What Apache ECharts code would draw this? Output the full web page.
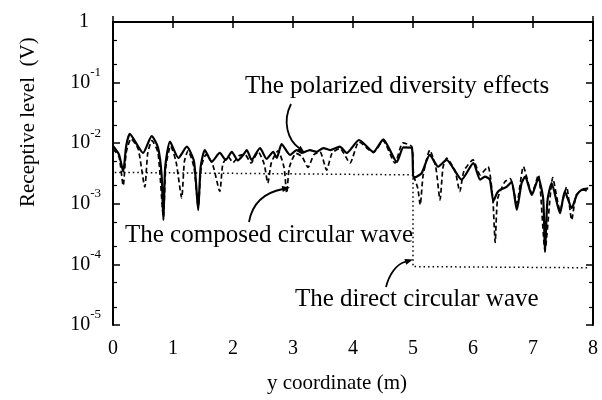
<!DOCTYPE html>
<html>
<head>
<meta charset="utf-8">
<script src="https://cdn.jsdelivr.net/npm/echarts@6/dist/echarts.min.js"></script>
<style>
  html, body { margin: 0; padding: 0; background: #fff; }
  #chart { width: 602px; height: 400px; }
</style>
</head>
<body>
<div id="chart"></div>
<script>
// values (x in m, level in V)
const polarX = [0, 0.1, 0.17, 0.22, 0.28, 0.4, 0.5, 0.645, 0.75, 0.81, 0.84, 0.87, 0.95, 1.09, 1.23, 1.35, 1.42, 1.46, 1.53, 1.645,
  1.78, 1.88, 1.98, 2.08, 2.17, 2.23, 2.31, 2.45, 2.56, 2.67, 2.73, 2.81, 2.95, 3.06, 3.145, 3.28, 3.395, 3.505, 3.62, 3.78,
  3.895, 4.1, 4.34, 4.505, 4.73, 4.84, 4.98, 5.005, 5.06, 5.145, 5.28, 5.42, 5.56, 5.81, 6.005, 6.12, 6.2, 6.28, 6.34, 6.4,
  6.45, 6.56, 6.645, 6.73, 6.81, 6.87, 6.98, 7.09, 7.17, 7.2, 7.24, 7.31, 7.45, 7.53, 7.645, 7.73, 7.81, 7.92]
const polarY = [0.009, 0.0065, 0.0034, 0.009, 0.0142, 0.0095, 0.0069, 0.0131, 0.0085, 0.003, 0.00054, 0.004, 0.0106, 0.0057, 0.00875, 0.005, 0.00079, 0.004, 0.0077, 0.00495,
  0.0069, 0.0053, 0.0072, 0.0052, 0.0064, 0.0077, 0.0053, 0.0083, 0.0055, 0.0072, 0.0057, 0.0097, 0.0064, 0.0077, 0.0069, 0.0077, 0.0072, 0.0083, 0.0077, 0.00875,
  0.0069, 0.0113, 0.0072, 0.0116, 0.0049, 0.00855, 0.0083, 0.0027, 0.0028, 0.0032, 0.0064, 0.0041, 0.0053, 0.0025, 0.0047, 0.0025, 0.0028, 0.0025, 0.0011, 0.0015,
  0.0017, 0.0019, 0.0023, 0.00079, 0.0022, 0.0028, 0.0014, 0.00265, 0.0012, 0.00016, 0.0011, 0.0022, 0.0007, 0.0016, 0.00085, 0.0014, 0.0017, 0.0018]

const composedX = [0, 0.1, 0.17, 0.22, 0.3, 0.42, 0.53, 0.58, 0.65, 0.75, 0.84, 0.88, 0.96, 1.05, 1.145, 1.19, 1.25, 1.35, 1.42, 1.47,
  1.55, 1.66, 1.78, 1.83, 1.92, 2.0, 2.1, 2.2, 2.3, 2.42, 2.52, 2.58, 2.64, 2.75, 2.85, 2.895, 2.94, 3.05, 3.15, 3.25,
  3.35, 3.45, 3.56, 3.65, 3.78, 3.95, 4.1, 4.34, 4.5, 4.7, 4.83, 4.98, 5.01, 5.08, 5.12, 5.17, 5.28, 5.38, 5.45, 5.5,
  5.56, 5.7, 5.78, 5.85, 6.0, 6.12, 6.25, 6.33, 6.37, 6.41, 6.53, 6.62, 6.73, 6.84, 6.98, 7.09, 7.2, 7.33, 7.45, 7.56,
  7.645, 7.72, 7.84, 7.92]
const composedY = [0.008, 0.006, 0.002, 0.007, 0.0118, 0.008, 0.0019, 0.007, 0.011, 0.007, 0.0006, 0.004, 0.009, 0.005, 0.00125, 0.005, 0.0075, 0.004, 0.0009, 0.004,
  0.0065, 0.0045, 0.0016, 0.0045, 0.006, 0.0048, 0.0062, 0.0065, 0.0047, 0.0072, 0.0045, 0.0022, 0.0048, 0.0075, 0.004, 0.0015, 0.004, 0.0068, 0.006, 0.004,
  0.0065, 0.0072, 0.0036, 0.0068, 0.0082, 0.0047, 0.0105, 0.007, 0.011, 0.0047, 0.0101, 0.0088, 0.003, 0.0018, 0.00096, 0.003, 0.0077, 0.004, 0.00116, 0.004,
  0.0057, 0.0035, 0.0016, 0.0035, 0.0053, 0.003, 0.0041, 0.0012, 0.00023, 0.0012, 0.0023, 0.0026, 0.00102, 0.0041, 0.0015, 0.003, 0.00017, 0.0027, 0.00079, 0.0019,
  0.00054, 0.0014, 0.0017, 0.0016]

const directX = [0.03, 5.0, 5.0, 7.95]
const directY = [0.0033, 0.003, 0.000092, 0.000088]

// minor ticks sit at 5 and 2 inside each decade
const yMinorTicks = [0.5, 0.2, 0.05, 0.02, 0.005, 0.002, 0.0005, 0.0002, 0.00005, 0.00002]

const font = 'Liberation Serif'
const ink = '#000'

const zip = (xs, ys) => xs.map((x, i) => [x, ys[i]])

const chart = echarts.init(document.getElementById('chart'))

// a tick-only axis in decades (log10 units) for the minor ticks
const minorAxis = pos => ({
  type: 'value',
  min: -5,
  max: 0,
  position: pos,
  splitLine: { show: false },
  axisLine: { show: false },
  axisLabel: { show: false },
  axisTick: { show: true, inside: true, length: 4, customValues: yMinorTicks.map(Math.log10), lineStyle: { color: ink, width: 1.2 } },
})

const majorAxis = (pos, labels) => ({
  type: 'log',
  logBase: 10,
  min: 0.00001,
  max: 1,
  interval: 1,
  position: pos,
  splitLine: { show: false },
  axisLine: { show: true, lineStyle: { color: ink, width: 2 } },
  axisTick: { show: true, inside: true, length: 7, lineStyle: { color: ink, width: 1.5 } },
  axisLabel: labels ? {
    margin: 12,
    formatter: v => {
      const e = Math.round(Math.log10(v))
      return e === 0 ? '{one|1}' : '{b|10}{s|' + e + '}'
    },
    rich: {
      b: { fontFamily: font, fontSize: 20, color: ink },
      s: { fontFamily: font, fontSize: 13, color: ink, padding: [0, 0, 20, 0] },
      one: { fontFamily: font, fontSize: 20, color: ink, padding: [0, 12, 0, 0] },
    },
  } : { show: false },
})

const xAxisAt = (pos, labels) => ({
  type: 'value',
  min: 0,
  max: 8,
  interval: 1,
  position: pos,
  splitLine: { show: false },
  axisLine: { lineStyle: { color: ink, width: 2 } },
  axisTick: { inside: true, length: 6, lineStyle: { color: ink, width: 1.5 } },
  axisLabel: labels ? { margin: 14, fontFamily: font, fontSize: 20, color: ink } : { show: false },
})

chart.setOption({
  animation: false,
  grid: { left: 113, right: 9, top: 22, bottom: 75 },
  xAxis: [
    Object.assign(xAxisAt('bottom', true), {
      name: 'y coordinate (m)',
      nameLocation: 'middle',
      nameGap: 48,
      nameTextStyle: { fontFamily: font, fontSize: 21, color: ink, padding: [0, 32, 0, 0] },
    }),
    xAxisAt('top', false),
  ],
  yAxis: [
    majorAxis('left', true),
    minorAxis('left'),
    majorAxis('right', false),
    minorAxis('right'),
  ],
  series: [
    {
      name: 'The direct circular wave',
      type: 'line',
      data: zip(directX, directY),
      showSymbol: false,
      lineStyle: { color: ink, width: 1.5, type: [1.5, 3] },
      z: 2,
    },
    {
      name: 'The composed circular wave',
      type: 'line',
      data: zip(composedX, composedY),
      showSymbol: false,
      smooth: 0.2,
      lineStyle: { color: ink, width: 1.7, type: [5, 3] },
      z: 3,
    },
    {
      name: 'The polarized diversity effects',
      type: 'line',
      data: zip(polarX, polarY),
      showSymbol: false,
      smooth: 0.2,
      lineStyle: { color: ink, width: 2.2 },
      z: 4,
    },
  ],
  graphic: [
    {
      type: 'text', x: 18, y: 207,
      rotation: Math.PI / 2,
      style: { text: 'Receptive level  (V)', fontFamily: font, fontSize: 21, fill: ink },
    },
    { type: 'text', x: 245, y: 86, style: { text: 'The polarized diversity effects', fontFamily: font, fontSize: 25, fill: ink, verticalAlign: 'middle' } },
    { type: 'text', x: 125, y: 235, style: { text: 'The composed circular wave', fontFamily: font, fontSize: 25, fill: ink, verticalAlign: 'middle' } },
    { type: 'text', x: 295, y: 299, style: { text: 'The direct circular wave', fontFamily: font, fontSize: 25, fill: ink, verticalAlign: 'middle' } },
    // arrows
    { type: 'bezierCurve', shape: { x1: 291, y1: 104, cpx1: 282, cpy1: 122, cpx2: 288, cpy2: 140, x2: 299, y2: 148 }, style: { stroke: ink, lineWidth: 1.8, fill: null } },
    { type: 'polygon', shape: { points: [[305, 153], [296.9, 150.5], [300.5, 145.7]] }, style: { fill: ink } },
    { type: 'bezierCurve', shape: { x1: 249, y1: 222, cpx1: 252, cpy1: 205, cpx2: 262, cpy2: 193, x2: 283, y2: 189 }, style: { stroke: ink, lineWidth: 1.8, fill: null } },
    { type: 'polygon', shape: { points: [[290, 187.4], [282.8, 191.9], [281.6, 186.1]] }, style: { fill: ink } },
    { type: 'bezierCurve', shape: { x1: 386, y1: 287, cpx1: 389, cpy1: 275, cpx2: 396, cpy2: 264, x2: 406, y2: 261.5 }, style: { stroke: ink, lineWidth: 1.8, fill: null } },
    { type: 'polygon', shape: { points: [[413, 259.5], [406.2, 264.7], [404.4, 258.9]] }, style: { fill: ink } },
  ],
})
</script>
</body>
</html>
